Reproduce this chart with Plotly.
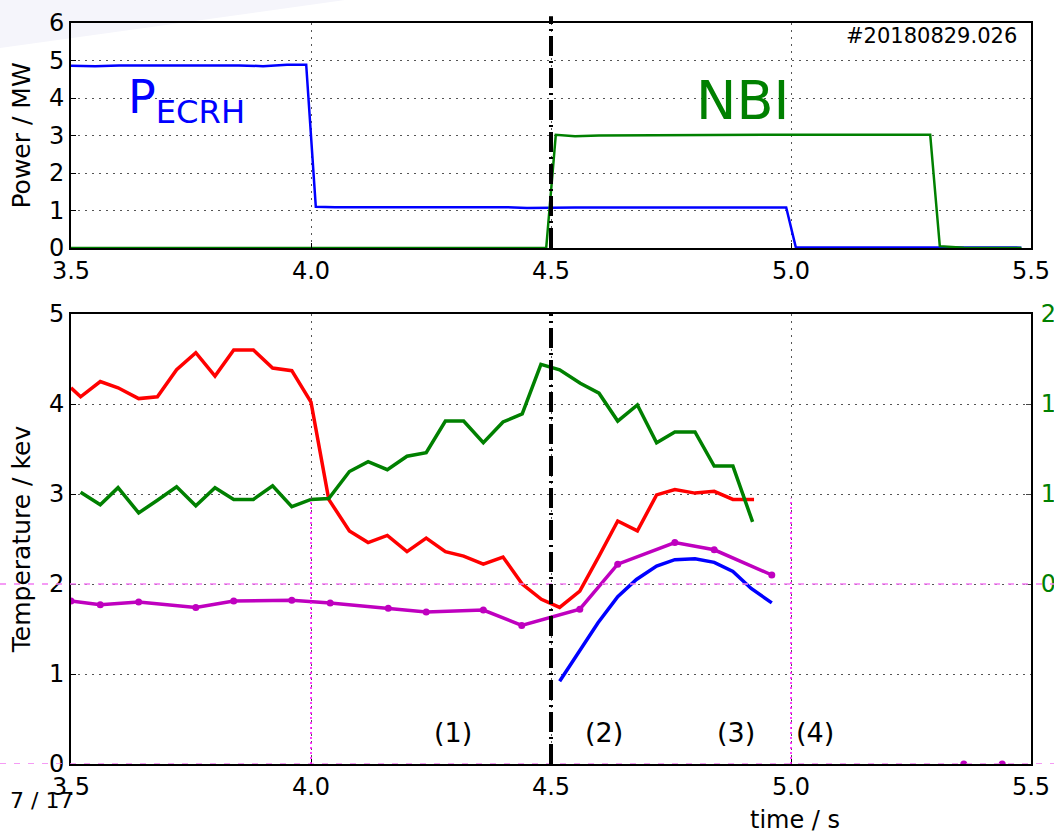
import plotly.graph_objects as go

# ---------------- data ----------------
x_ticks = [3.5, 4.0, 4.5, 5.0, 5.5]
x_ticktext = ["3.5", "4.0", "4.5", "5.0", "5.5"]

# top panel: heating power (MW)
ecrh_t = [3.50, 3.55, 3.60, 3.65, 3.70, 3.75, 3.80, 3.85, 3.90, 3.95, 3.99, 4.01, 4.05, 4.10,
          4.15, 4.20, 4.25, 4.30, 4.35, 4.40, 4.45, 4.50, 4.55, 4.60, 4.65, 4.70, 4.75, 4.80,
          4.85, 4.90, 4.95, 4.99, 5.01, 5.05, 5.10, 5.20, 5.30, 5.40, 5.48]
ecrh_p = [4.86, 4.85, 4.87, 4.87, 4.88, 4.89, 4.87, 4.87, 4.85, 4.89, 4.89, 1.10, 1.09, 1.09,
          1.09, 1.10, 1.08, 1.08, 1.08, 1.09, 1.07, 1.08, 1.08, 1.08, 1.08, 1.09, 1.10, 1.09,
          1.10, 1.10, 1.10, 1.08, 0.02, 0.02, 0.02, 0.01, 0.02, 0.01, 0.01]

nbi_t = [3.50, 4.00, 4.49, 4.51, 4.55, 4.60, 4.70, 4.80, 4.90, 5.00, 5.10, 5.20, 5.29, 5.31,
         5.36, 5.40, 5.48]
nbi_p = [0.0, 0.0, 0.0, 3.02, 2.98, 3.00, 3.01, 3.01, 3.02, 3.02, 3.02, 3.02, 3.02, 0.05,
         0.01, 0.0, 0.0]

# bottom panel: temperatures (keV)
red_t = [3.50, 3.52, 3.561, 3.598, 3.641, 3.68, 3.72, 3.76, 3.80, 3.839, 3.88, 3.92, 3.96,
         4.00, 4.037, 4.08, 4.119, 4.159, 4.20, 4.24, 4.28, 4.318, 4.359, 4.40, 4.44, 4.48,
         4.518, 4.56, 4.60, 4.639, 4.68, 4.72, 4.758, 4.80, 4.84, 4.879, 4.923]
red_v = [4.18, 4.08, 4.25, 4.18, 4.06, 4.08, 4.38, 4.57, 4.31, 4.60, 4.60, 4.40, 4.37,
         4.02, 2.94, 2.59, 2.46, 2.54, 2.36, 2.51, 2.36, 2.31, 2.22, 2.30, 2.00, 1.83,
         1.74, 1.92, 2.31, 2.70, 2.59, 2.99, 3.05, 3.01, 3.03, 2.94, 2.94]

mag_t = [3.50, 3.561, 3.641, 3.76, 3.839, 3.96, 4.04, 4.161, 4.24, 4.359, 4.439, 4.56,
         4.639, 4.758, 4.84, 4.96]
mag_v = [1.81, 1.77, 1.80, 1.74, 1.81, 1.82, 1.79, 1.73, 1.69, 1.71, 1.54, 1.72,
         2.22, 2.46, 2.38, 2.10]
mag_tail_t = [5.36, 5.44]
mag_tail_v = [0.0, 0.0]

blue_t = [4.518, 4.56, 4.598, 4.639, 4.678, 4.72, 4.758, 4.80, 4.84, 4.879, 4.917, 4.96]
blue_v = [0.92, 1.27, 1.57, 1.86, 2.05, 2.20, 2.27, 2.28, 2.24, 2.14, 1.95, 1.79]

# green trace on the right-hand axis
green_t = [3.52, 3.561, 3.598, 3.641, 3.68, 3.72, 3.76, 3.80, 3.839, 3.88, 3.92, 3.96,
           4.00, 4.037, 4.08, 4.119, 4.159, 4.20, 4.24, 4.28, 4.318, 4.359, 4.40, 4.44,
           4.479, 4.518, 4.561, 4.60, 4.639, 4.68, 4.72, 4.758, 4.80, 4.84, 4.879, 4.92]
green_r = [1.01, 0.94, 1.035, 0.895, 0.965, 1.04, 0.935, 1.035, 0.97, 0.97, 1.045, 0.93,
           0.97, 0.975, 1.125, 1.18, 1.135, 1.21, 1.23, 1.405, 1.405, 1.285, 1.40, 1.445,
           1.72, 1.69, 1.615, 1.56, 1.405, 1.495, 1.285, 1.345, 1.345, 1.155, 1.155, 0.845]
right_ticks = [0.5, 1.0, 1.5, 2.0]
right_ticktext = ["0.5", "1.0", "1.5", "2.0"]

phase_labels = ["(1)", "(2)", "(3)", "(4)"]
phase_t = [4.295, 4.61, 4.885, 5.05]

# ---------------- figure ----------------
W, H = 1054, 835
FONT = "DejaVu Sans"
BLUE, GREEN, RED, MAG = "#0000FF", "#008000", "#FF0000", "#BF00BF"
GRIDC = "#555555"
GRIDDASH = "2px,5px"

xdom = [71 / W, 1031 / W]
ydom_top = [1 - 248 / H, 1 - 23 / H]
ydom_bot = [1 - 764 / H, 1 - 314 / H]

fig = go.Figure()

fig.add_trace(go.Scatter(x=ecrh_t, y=ecrh_p, mode="lines", line=dict(color=BLUE, width=2.5),
                         xaxis="x", yaxis="y", showlegend=False))
fig.add_trace(go.Scatter(x=nbi_t, y=nbi_p, mode="lines", line=dict(color=GREEN, width=2.5),
                         xaxis="x", yaxis="y", showlegend=False))

fig.add_trace(go.Scatter(x=mag_t, y=mag_v, mode="lines+markers", line=dict(color=MAG, width=3.5),
                         marker=dict(color=MAG, size=7), xaxis="x2", yaxis="y2", showlegend=False))
fig.add_trace(go.Scatter(x=mag_tail_t, y=mag_tail_v, mode="markers",
                         marker=dict(color=MAG, size=7), xaxis="x2", yaxis="y2", showlegend=False))
fig.add_trace(go.Scatter(x=red_t, y=red_v, mode="lines", line=dict(color=RED, width=3.5),
                         xaxis="x2", yaxis="y2", showlegend=False))
fig.add_trace(go.Scatter(x=blue_t, y=blue_v, mode="lines", line=dict(color=BLUE, width=3.5),
                         xaxis="x2", yaxis="y2", showlegend=False))
fig.add_trace(go.Scatter(x=green_t, y=green_r, mode="lines", line=dict(color=GREEN, width=3.5),
                         xaxis="x2", yaxis="y3", showlegend=False))

axis_common = dict(showline=True, linecolor="black", linewidth=2, mirror=True,
                   ticks="inside", ticklen=5, tickcolor="black", automargin=False,
                   tickfont=dict(family=FONT, size=24, color="black"),
                   showgrid=True, gridcolor=GRIDC, gridwidth=1.2, griddash=GRIDDASH,
                   zeroline=False)

fig.update_layout(
    width=W, height=H, margin=dict(l=0, r=0, t=0, b=0), autosize=False,
    paper_bgcolor="white", plot_bgcolor="white",
    xaxis=dict(axis_common, domain=xdom, range=[3.5, 5.5], tickvals=x_ticks,
               ticktext=x_ticktext, anchor="y"),
    yaxis=dict(axis_common, domain=ydom_top, range=[0, 6], dtick=1, anchor="x",
               title=dict(text="Power / MW", font=dict(family=FONT, size=25, color="black"),
                          standoff=11)),
    xaxis2=dict(axis_common, domain=xdom, range=[3.5, 5.5], tickvals=x_ticks,
                ticktext=x_ticktext, anchor="y2"),
    yaxis2=dict(axis_common, domain=ydom_bot, range=[0, 5], dtick=1, anchor="x2",
                title=dict(text="Temperature / kev", font=dict(family=FONT, size=25, color="black"),
                           standoff=11)),
    yaxis3=dict(domain=ydom_bot, range=[-0.5, 2.0], overlaying="y2", side="right", anchor="x2",
                tickvals=right_ticks, ticktext=right_ticktext, showgrid=False, zeroline=False,
                showline=True, linecolor="black", linewidth=2, ticks="inside", ticklen=5,
                ticklabelstandoff=3, automargin=False,
                tickfont=dict(family=FONT, size=24, color=GREEN)),
)

shapes = []
# faint slide background wedge in top-left corner
shapes.append(dict(type="path", xref="paper", yref="paper", layer="below",
                   path=f"M 0 1 L {345 / W} 1 L 0 {1 - 48 / H} Z",
                   fillcolor="#F5F5FB", line=dict(width=0)))
# magenta overlay guides in the bottom panel
for yv in [0, 2]:
    shapes.append(dict(type="line", xref="paper", yref="y2", x0=0, x1=1, y0=yv, y1=yv,
                       line=dict(color="#F27BF2", width=1.5, dash="6px,8px"), layer="above"))
for xv in [4.0, 5.0]:
    shapes.append(dict(type="line", xref="x2", yref="y2", x0=xv, x1=xv, y0=0, y1=2.95,
                       line=dict(color="#FF00FF", width=1.5, dash="2px,3px"), layer="above"))
# dash-dot marker at NBI start
shapes.append(dict(type="line", xref="x", yref="y domain", x0=4.5, x1=4.5, y0=0, y1=1.03,
                   line=dict(color="black", width=4, dash="20px,5px,2px,5px")))
shapes.append(dict(type="line", xref="x2", yref="y2 domain", x0=4.5, x1=4.5, y0=0, y1=1,
                   line=dict(color="black", width=4, dash="20px,5px,2px,5px")))
fig.update_layout(shapes=shapes)

ann = []
ann.append(dict(text="P<sub>ECRH</sub>", xref="paper", yref="paper", x=126 / W, y=1 - 100 / H,
                xanchor="left", yanchor="middle", showarrow=False,
                font=dict(family=FONT, size=46, color=BLUE)))
ann.append(dict(text="NBI", xref="paper", yref="paper", x=742 / W, y=1 - 101 / H,
                xanchor="center", yanchor="middle", showarrow=False,
                font=dict(family=FONT, size=54, color=GREEN)))
ann.append(dict(text="#20180829.026", xref="paper", yref="paper", x=1019 / W, y=1 - 36 / H,
                xanchor="right", yanchor="middle", showarrow=False,
                font=dict(family=FONT, size=21, color="black")))
for lab, t in zip(phase_labels, phase_t):
    ann.append(dict(text=lab, xref="x2", yref="y2", x=t, y=0.35, xanchor="center",
                    yanchor="middle", showarrow=False,
                    font=dict(family=FONT, size=27, color="black")))
ann.append(dict(text="time / s", xref="paper", yref="paper", x=795 / W, y=1 - 820 / H,
                xanchor="center", yanchor="middle", showarrow=False,
                font=dict(family=FONT, size=24, color="black")))
ann.append(dict(text="7 / 17", xref="paper", yref="paper", x=8 / W, y=1 - 800 / H,
                xanchor="left", yanchor="middle", showarrow=False,
                font=dict(family=FONT, size=22, color="black")))
fig.update_layout(annotations=ann)

fig.write_html("out.html", config={"displayModeBar": False},
               post_script="document.body.style.margin='0';document.body.style.overflow='hidden';")
